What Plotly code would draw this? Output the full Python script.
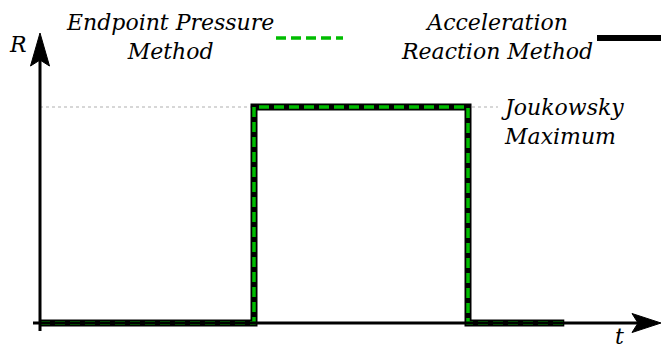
import plotly.graph_objects as go

# ---- data ----
pulse_t = [0, 1, 1, 2, 2, 2.45]
pulse_R = [0, 0, 1, 1, 0, 0]
jouk_t = [0, 2.14]
jouk_R = [1, 1]
legend_labels = ["Endpoint Pressure<br>Method", "Acceleration<br>Reaction Method"]
axis_labels = ["R", "t"]
peak_label = "Joukowsky<br>Maximum"

W, H = 661, 348
FONT = "DejaVu Serif"
GREEN = "#00bd00"

def px(x):
    return x / W

def py(y):
    return 1 - y / H

fig = go.Figure()

fig.add_trace(go.Scatter(x=jouk_t, y=jouk_R, mode="lines",
                         line=dict(color="#b0b0b0", width=1.2, dash="dot"),
                         hoverinfo="skip", showlegend=False))
fig.add_trace(go.Scatter(x=pulse_t, y=pulse_R, mode="lines",
                         line=dict(color="black", width=7, shape="linear"),
                         showlegend=False))
fig.add_trace(go.Scatter(x=pulse_t, y=pulse_R, mode="lines",
                         line=dict(color=GREEN, width=3.5, dash="10px,5px"),
                         showlegend=False))

shapes = []
shapes.append(dict(type="line", xref="paper", yref="paper",
                   x0=px(40), x1=px(40), y0=py(331), y1=py(60),
                   line=dict(color="black", width=3)))
shapes.append(dict(type="path", xref="paper", yref="paper",
                   path=f"M {px(40)},{py(33)} L {px(49.5)},{py(66)} L {px(40)},{py(60)} L {px(30.5)},{py(66)} Z",
                   fillcolor="black", line=dict(color="black", width=1)))
shapes.append(dict(type="line", xref="paper", yref="paper",
                   x0=px(33), x1=px(640), y0=py(323), y1=py(323),
                   line=dict(color="black", width=3)))
shapes.append(dict(type="path", xref="paper", yref="paper",
                   path=f"M {px(661)},{py(323)} L {px(632)},{py(332.5)} L {px(638)},{py(323)} L {px(632)},{py(313.5)} Z",
                   fillcolor="black", line=dict(color="black", width=1)))
shapes.append(dict(type="line", xref="paper", yref="paper",
                   x0=px(276), x1=px(343), y0=py(38), y1=py(38),
                   line=dict(color=GREEN, width=3.5, dash="10px,5px")))
shapes.append(dict(type="line", xref="paper", yref="paper",
                   x0=px(597), x1=px(661), y0=py(38), y1=py(38),
                   line=dict(color="black", width=6)))

font = dict(family=FONT, size=22, color="black")
ann = []
ann.append(dict(text=f"<i>{legend_labels[0]}</i>", x=px(170), y=py(37), xref="paper", yref="paper",
                showarrow=False, xanchor="center", yanchor="middle", align="center", font=font))
ann.append(dict(text=f"<i>{legend_labels[1]}</i>", x=px(497), y=py(37), xref="paper", yref="paper",
                showarrow=False, xanchor="center", yanchor="middle", align="center", font=font))
ann.append(dict(text=f"<i>{peak_label}</i>", x=px(499), y=py(122), xref="paper", yref="paper",
                showarrow=False, xanchor="left", yanchor="middle", align="left", font=font))
ann.append(dict(text=f"<i>{axis_labels[0]}</i>", x=px(18), y=py(45), xref="paper", yref="paper",
                showarrow=False, xanchor="center", yanchor="middle", font=font))
ann.append(dict(text=f"<i>{axis_labels[1]}</i>", x=px(619), y=py(336), xref="paper", yref="paper",
                showarrow=False, xanchor="center", yanchor="middle", font=font))

x0 = -40 / 214
x1 = (661 - 40) / 214
y_top = 323 / 216
y_bot = -25 / 216

fig.update_layout(
    width=W, height=H,
    margin=dict(l=0, r=0, t=0, b=0),
    paper_bgcolor="white", plot_bgcolor="white",
    xaxis=dict(range=[x0, x1], visible=False, fixedrange=True),
    yaxis=dict(range=[y_bot, y_top], visible=False, fixedrange=True),
    shapes=shapes, annotations=ann,
    showlegend=False,
)

fig.write_html("out.html", config={"displayModeBar": False},
               post_script="document.body.style.margin='0';")
